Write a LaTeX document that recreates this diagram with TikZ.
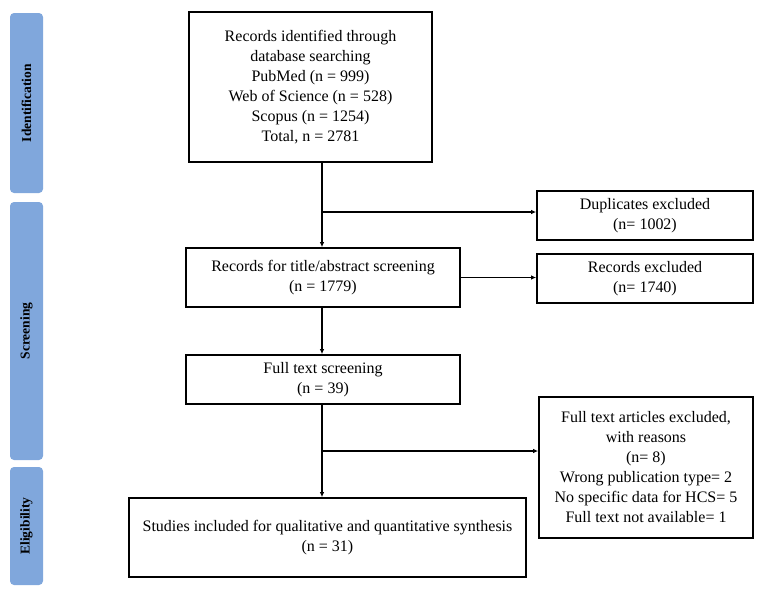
\documentclass[tikz,border=0pt]{standalone}
\usepackage{fontspec}
\setmainfont{Liberation Serif}
\usetikzlibrary{arrows.meta,calc}
\definecolor{bandblue}{RGB}{128,167,220}
\begin{document}
\begin{tikzpicture}[x=1pt,y=-1pt,
  box/.style={draw=black,line width=1.7pt,align=center,inner sep=0pt,
    font=\fontsize{16}{20}\selectfont},
  band/.style={fill=bandblue,draw=none,rounded corners=4pt,inner sep=0pt,
    minimum width=33pt,font=\fontsize{13.5}{16}\selectfont\bfseries},
  arr/.style={line width=1.3pt,-{Latex[length=5pt,width=4.5pt]}}]
\useasboundingbox (0,0) rectangle (764,603);
% phase bands
\node[band,minimum height=180pt] (bid) at (26.5,103) {};
\node[rotate=90,font=\fontsize{13.5}{16}\selectfont\bfseries] (tid) at (bid) {Identification};
\node[band,minimum height=258pt] (bsc) at (26.5,331) {};
\node[rotate=90,font=\fontsize{13.5}{16}\selectfont\bfseries] (tsc) at (bsc) {Screening};
\node[band,minimum height=118pt] (bel) at (26.5,526) {};
\node[rotate=90,font=\fontsize{13.5}{16}\selectfont\bfseries] (tel) at (bel) {Eligibility};
% main boxes
\node[box,minimum width=243pt,minimum height=150pt] (id) at (310.5,87)
  {Records identified through\\database searching\\PubMed (n = 999)\\Web of Science (n = 528)\\Scopus (n = 1254)\\Total, n = 2781};
\node[box,minimum width=274pt,minimum height=59pt] (title) at (323,277.5)
  {Records for title/abstract screening\\(n = 1779)};
\node[box,minimum width=274pt,minimum height=49pt] (full) at (323,379.5)
  {Full text screening\\(n = 39)};
\node[box,minimum width=397pt,minimum height=79pt] (final) at (327.5,537.5)
  {Studies included for qualitative and quantitative synthesis\\(n = 31)};
% exclusion boxes
\node[box,minimum width=216pt,minimum height=49pt] (dup) at (645,215.5)
  {Duplicates excluded\\(n= 1002)};
\node[box,minimum width=216pt,minimum height=49pt] (recex) at (645,278.5)
  {Records excluded\\(n= 1740)};
\node[box,minimum width=214pt,minimum height=141pt] (ftex) at (646,467.5)
  {Full text articles excluded,\\with reasons\\(n= 8)\\Wrong publication type= 2\\No specific data for HCS= 5\\Full text not available= 1};
% connectors
\coordinate (b1) at (322,212);
\coordinate (b2) at (322,451);
\draw[arr] (b1 |- id.south) -- (b1 |- title.north);
\draw[arr] (b1) -- (b1 -| dup.west);
\draw[arr] (title.east) -- (title.east -| recex.west);
\draw[arr] (b1 |- title.south) -- (b1 |- full.north);
\draw[arr] (b2 |- full.south) -- (b2 |- final.north);
\draw[arr] (b2) -- (b2 -| ftex.west);
\end{tikzpicture}
\end{document}
